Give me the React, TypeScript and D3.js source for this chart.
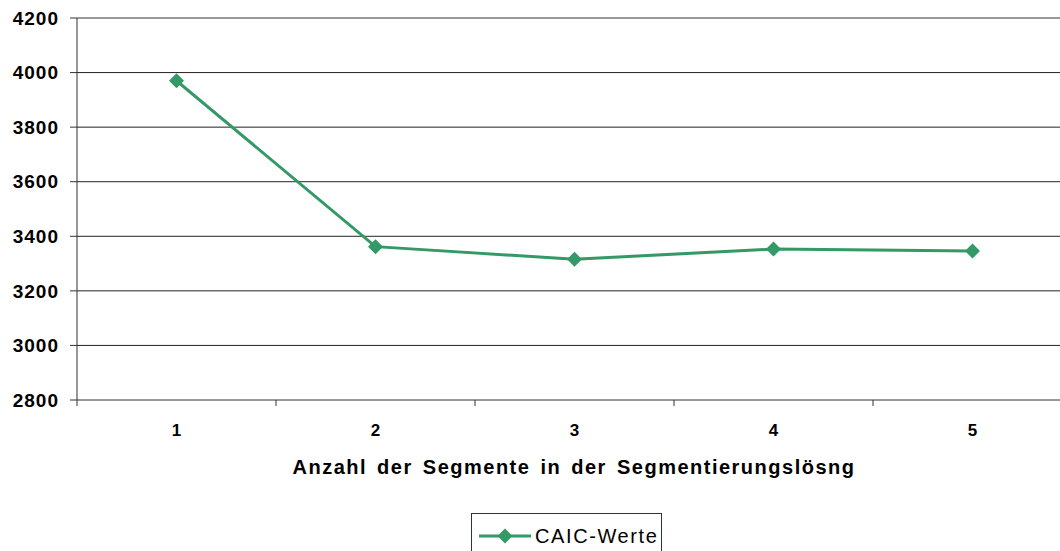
import React from "react";
import * as d3 from "d3";

const categories = ["1", "2", "3", "4", "5"];
const caicValues = [3970, 3362, 3316, 3353, 3346];
const yTicks = [2800, 3000, 3200, 3400, 3600, 3800, 4000, 4200];
const seriesName = "CAIC-Werte";
const xTitle = "Anzahl der Segmente in der Segmentierungslösng";

const W = 1060;
const H = 551;
const left = 77;
const right = 1072;
const top = 18;
const bottom = 400;
const green = "#339966";
const font = "'Liberation Sans', Arial, sans-serif";

export default function App() {
  const x = d3.scaleBand<string>().domain(categories).range([left, right]).padding(0);
  const y = d3.scaleLinear().domain([2800, 4200]).range([bottom, top]);
  const cx = (c: string) => (x(c) as number) + x.bandwidth() / 2;
  const line = d3
    .line<number>()
    .x((_, i) => cx(categories[i]))
    .y((v) => y(v));
  const diamond = (px: number, py: number, r: number) =>
    `M${px},${py - r}L${px + r},${py}L${px},${py + r}L${px - r},${py}Z`;
  const boundaries = categories.map((c) => x(c) as number).concat([right]);

  return (
    <svg
      width={W}
      height={H}
      style={{ position: "absolute", left: 0, top: 0, background: "#fff" }}
    >
      {yTicks.map((t) =>
        t === 4200 ? (
          <line key={t} x1={left} x2={W} y1={y(t)} y2={y(t)} stroke="#999" strokeWidth={2} />
        ) : t === 2800 ? null : (
          <line key={t} x1={left} x2={W} y1={y(t)} y2={y(t)} stroke="#222" strokeWidth={1} />
        )
      )}
      <line x1={left} x2={left} y1={top} y2={bottom} stroke="#333" strokeWidth={1} />
      {yTicks.map((t) => (
        <g key={"yt" + t}>
          <line x1={left - 7} x2={left} y1={y(t)} y2={y(t)} stroke="#333" />
          <text
            x={left - 18}
            y={y(t)}
            dy="0.35em"
            textAnchor="end"
            fontFamily={font}
            fontWeight="bold"
            fontSize={19}
            letterSpacing={1}
            fill="#000"
          >
            {t}
          </text>
        </g>
      ))}
      <line x1={left} x2={W} y1={bottom} y2={bottom} stroke="#333" strokeWidth={1} />
      {boundaries.map((b, i) => (
        <line key={"xt" + i} x1={b} x2={b} y1={bottom} y2={bottom + 6} stroke="#333" />
      ))}
      {categories.map((c) => (
        <text
          key={"xl" + c}
          x={cx(c)}
          y={430}
          dy="0.35em"
          textAnchor="middle"
          fontFamily={font}
          fontWeight="bold"
          fontSize={17}
          fill="#000"
        >
          {c}
        </text>
      ))}
      <text
        x={574}
        y={467}
        dy="0.35em"
        textAnchor="middle"
        fontFamily={font}
        fontWeight="bold"
        fontSize={20}
        letterSpacing={1.5}
        wordSpacing={3}
        fill="#000"
      >
        {xTitle}
      </text>
      <path d={line(caicValues) || ""} fill="none" stroke={green} strokeWidth={3} />
      {caicValues.map((v, i) => (
        <path key={"m" + i} d={diamond(cx(categories[i]), y(v), 7.5)} fill={green} />
      ))}
      <rect x={471.5} y={513.5} width={190} height={45} fill="#fff" stroke="#333" strokeWidth={1} />
      <line x1={479} x2={531} y1={536} y2={536} stroke={green} strokeWidth={3} />
      <path d={diamond(505, 536, 7.5)} fill={green} />
      <text
        x={535}
        y={536}
        dy="0.35em"
        fontFamily={font}
        fontSize={20}
        letterSpacing={1.6}
        fill="#000"
      >
        {seriesName}
      </text>
    </svg>
  );
}
